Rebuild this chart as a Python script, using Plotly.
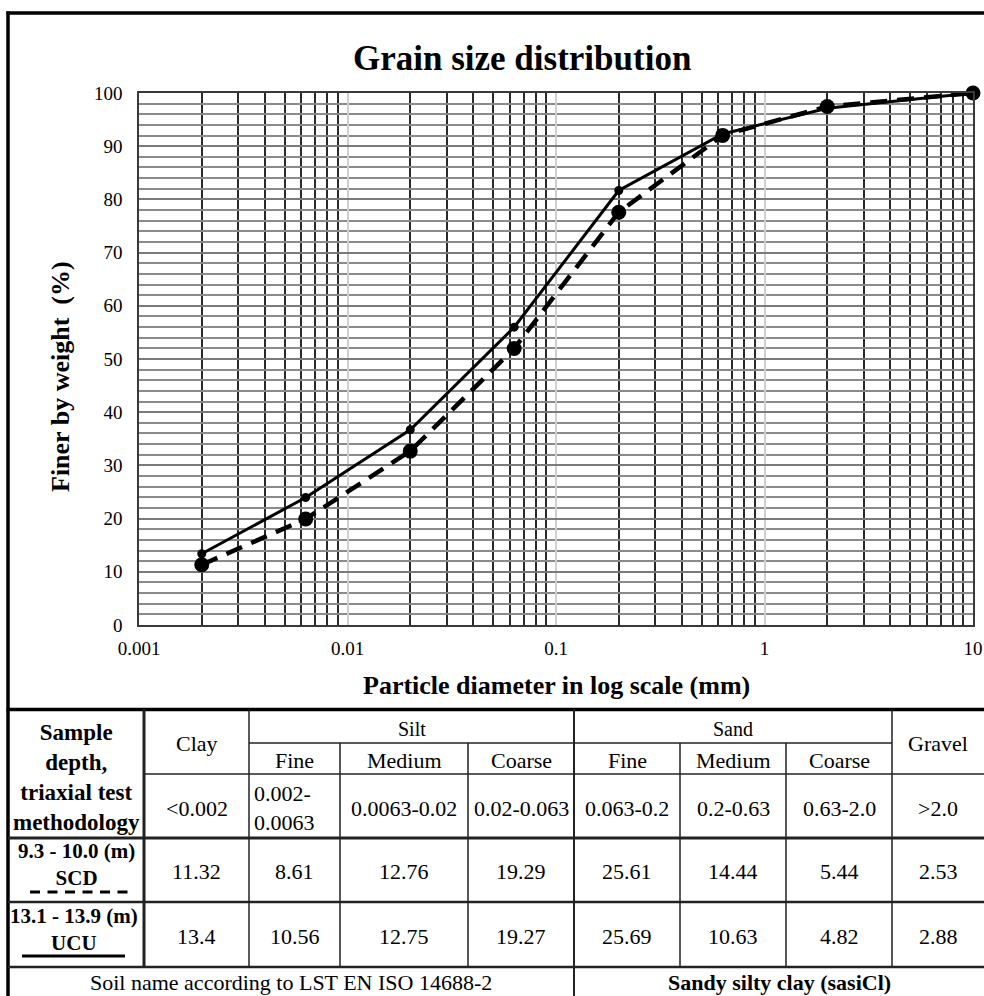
import plotly.graph_objects as go

# ---------------- data ----------------
diameter_mm = [0.002, 0.0063, 0.02, 0.063, 0.2, 0.63, 2.0, 10.0]
finer_scd = [11.32, 19.93, 32.69, 51.98, 77.59, 92.03, 97.47, 100.0]
finer_ucu = [13.4, 23.96, 36.71, 55.98, 81.67, 92.3, 97.12, 100.0]

x_tick_vals = [0.001, 0.01, 0.1, 1, 10]
x_tick_text = ["0.001", "0.01", "0.1", "1", "10"]

group_labels = ["Clay", "Silt", "Sand", "Gravel"]
sub_labels = ["Fine", "Medium", "Coarse", "Fine", "Medium", "Coarse"]
range_labels = ["&lt;0.002", "0.002-<br>0.0063", "0.0063-0.02", "0.02-0.063",
                "0.063-0.2", "0.2-0.63", "0.63-2.0", "&gt;2.0"]
pct_scd = [11.32, 8.61, 12.76, 19.29, 25.61, 14.44, 5.44, 2.53]
pct_ucu = [13.4, 10.56, 12.75, 19.27, 25.69, 10.63, 4.82, 2.88]
row_labels = ["<b>9.3 - 10.0 (m)</b><br><b>SCD</b>", "<b>13.1 - 13.9 (m)</b><br><b>UCU</b>"]
head_label = "<b>Sample<br>depth,<br>triaxial test<br>methodology</b>"
soil_name_label = "Soil name according to LST EN ISO 14688-2"
soil_name_value = "<b>Sandy silty clay (sasiCl)</b>"

# ---------------- layout helpers (pixel -> paper) ----------------
W, H = 984, 996
def px(x):
    return x / W
def py(y):
    return 1 - y / H

PL, PR, PT, PB = 139, 973, 93, 625
SERIF = "Liberation Serif, Times New Roman, serif"

fig = go.Figure()

fig.add_trace(go.Scatter(
    x=diameter_mm, y=finer_scd, mode="lines+markers", name="SCD",
    line=dict(color="black", width=4.5, dash="17px,10px"),
    marker=dict(color="black", size=15),
    showlegend=False, cliponaxis=False))
fig.add_trace(go.Scatter(
    x=diameter_mm, y=finer_ucu, mode="lines+markers", name="UCU",
    line=dict(color="black", width=3),
    marker=dict(color="black", size=9),
    showlegend=False, cliponaxis=False))

minor_x = [m * 10 ** e for e in range(-3, 1) for m in range(2, 10)]

fig.update_xaxes(
    type="log", range=[-3, 1],
    domain=[px(PL), px(PR)],
    tickmode="array", tickvals=x_tick_vals, ticktext=x_tick_text,
    showgrid=True, gridcolor="#cfcfcf", gridwidth=1.5,
    minor=dict(tickmode="array", tickvals=minor_x, showgrid=True,
               gridcolor="#2a2a2a", gridwidth=1.5, ticks=""),
    showline=True, linecolor="#3a3a3a", linewidth=1.5, mirror=True,
    ticks="", ticklabelstandoff=5,
    tickfont=dict(family=SERIF, size=19, color="black"),
    zeroline=False, automargin=False,
)
fig.update_yaxes(
    range=[0, 100], domain=[py(PB), py(PT)],
    tickmode="linear", tick0=0, dtick=10,
    showgrid=True, gridcolor="#7a7a7a", gridwidth=1.5,
    minor=dict(dtick=2, showgrid=True, gridcolor="#8a8a8a", gridwidth=1.5, ticks=""),
    showline=True, linecolor="#3a3a3a", linewidth=1.5, mirror=True,
    ticks="", ticklabelstandoff=11,
    tickfont=dict(family=SERIF, size=19, color="black"),
    zeroline=False, automargin=False,
)

shapes = []
annotations = []

def hline(x0, x1, y, w=1.5, color="#222", dash="solid"):
    shapes.append(dict(type="line", xref="paper", yref="paper",
                       x0=px(x0), x1=px(x1), y0=py(y), y1=py(y),
                       line=dict(color=color, width=w, dash=dash), layer="above"))

def vline(x, y0, y1, w=1.5, color="#222"):
    shapes.append(dict(type="line", xref="paper", yref="paper",
                       x0=px(x), x1=px(x), y0=py(y0), y1=py(y1),
                       line=dict(color=color, width=w), layer="above"))

def text(x, y, s, size=22, bold=False, xanchor="center", align="center"):
    annotations.append(dict(xref="paper", yref="paper", x=px(x), y=py(y),
                            text=s, showarrow=False, xanchor=xanchor, yanchor="middle",
                            align=align,
                            font=dict(family=SERIF, size=size, color="black")))

# outer chart frame
hline(6.5, 984, 13, w=3.5, color="black")
vline(8, 11.5, 996, w=3.5, color="black")
hline(6.5, 984, 709.5, w=3.5, color="black")

# titles
text(522, 58, "<b>Grain size distribution</b>", size=35)
text(556, 685, "<b>Particle diameter in log scale (mm)</b>", size=26)
annotations.append(dict(xref="paper", yref="paper", x=px(60), y=py(377),
                        text="<b>Finer by weight  (%)</b>", showarrow=False, textangle=-90,
                        xanchor="center", yanchor="middle",
                        font=dict(family=SERIF, size=26, color="black")))

# ---------------- table ----------------
col_edges = [144, 249, 340, 468, 574, 680, 786, 892, 984]
T_TOP, R_GROUP, R_SUB, R_RANGE, R_SCD, R_UCU, T_BOT = 709.5, 743, 774, 838, 902, 967, 996

hline(col_edges[1], col_edges[7], R_GROUP)
hline(col_edges[0], 984, R_SUB)
hline(8, 984, R_RANGE, w=3)
hline(8, 984, R_SCD, w=2.5)
hline(8, 984, R_UCU, w=2.5)
vline(col_edges[0], T_TOP, R_UCU, w=3)
vline(col_edges[1], T_TOP, R_UCU)
vline(col_edges[2], R_GROUP, R_UCU)
vline(col_edges[3], R_GROUP, R_UCU)
vline(col_edges[4], T_TOP, T_BOT, w=2)
vline(col_edges[5], R_GROUP, R_UCU)
vline(col_edges[6], R_GROUP, R_UCU)
vline(col_edges[7], T_TOP, R_UCU)

centers = [(col_edges[i] + col_edges[i + 1]) / 2 for i in range(8)]

text(76, 777, head_label, size=23)
text(centers[0], 743, group_labels[0])
text((col_edges[1] + col_edges[4]) / 2, 729, group_labels[1], size=20)
text((col_edges[4] + col_edges[7]) / 2, 729, group_labels[2], size=20)
text(centers[7], 743, group_labels[3])
for i, lab in enumerate(sub_labels):
    text(centers[i + 1], 760, lab)

for i, lab in enumerate(range_labels):
    if i == 1:
        text(col_edges[1] + 3, 808, lab, xanchor="left", align="left")
    else:
        text(centers[i], 808, lab)

for i, v in enumerate(pct_scd):
    text(centers[i], 871, f"{v:g}")
for i, v in enumerate(pct_ucu):
    text(centers[i], 936, f"{v:g}")

text(76, 864, row_labels[0], size=21)
text(74, 929, row_labels[1], size=21)
hline(30, 133, 892, w=3, color="black", dash="10px,7.5px")
hline(22, 125, 956, w=3, color="black")

text((8 + col_edges[4]) / 2, 982, soil_name_label)
text((col_edges[4] + 984) / 2, 982, soil_name_value)

fig.update_layout(
    width=W, height=H,
    margin=dict(l=0, r=0, t=0, b=0),
    paper_bgcolor="white", plot_bgcolor="white",
    shapes=shapes, annotations=annotations,
    showlegend=False,
)

fig.write_html("out.html", config={"displayModeBar": False},
               post_script="document.body.style.margin='0';")
